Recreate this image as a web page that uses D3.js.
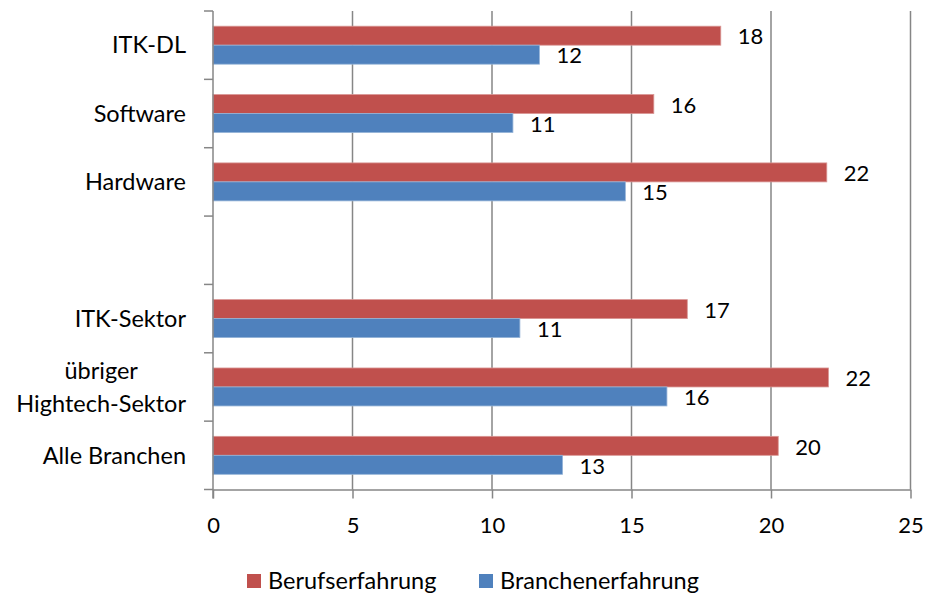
<!DOCTYPE html>
<html lang="de">
<head>
<meta charset="utf-8">
<title>Berufs- und Branchenerfahrung</title>
<script src="https://cdn.jsdelivr.net/npm/d3@7"></script>
<style>
  body { margin: 0; background: #fff; }
  svg text { font-family: Lato, "Open Sans", sans-serif; fill: #000; }
  .grid line { stroke: #868686; stroke-width: 1.5px; }
  .axis path, .axis line { stroke: #868686; stroke-width: 1.5px; }
</style>
</head>
<body>
<script>
// categories top to bottom; the empty string is the gap row
const categories = ["ITK-DL", "Software", "Hardware", "", "ITK-Sektor", "übriger Hightech-Sektor", "Alle Branchen"];
const seriesNames = ["Berufserfahrung", "Branchenerfahrung"];
const berufserfahrung = [18.2, 15.8, 22.0, null, 17.0, 22.06, 20.26];
const branchenerfahrung = [11.7, 10.75, 14.78, null, 11.0, 16.27, 12.53];
const xTicks = [0, 5, 10, 15, 20, 25];
const colors = ["#C0504D", "#4F81BD"];

const W = 925, H = 594;
const plotL = 213, plotR = 910.5, plotT = 11, plotB = 489.5;
const textSize = "23.5px", numSize = "22px";

const svg = d3.select("body").append("svg")
    .attr("width", W).attr("height", H);

const x = d3.scaleLinear().domain([0, 25]).range([plotL, plotR]);
const keys = categories.map((c, i) => "c" + i);
const y = d3.scaleBand().domain(keys).range([plotT, plotB]).padding(0);
const y1 = d3.scaleBand().domain(seriesNames).range([0, y.bandwidth()])
    .paddingInner(0).paddingOuter(0.8);

// gridlines
svg.append("g").attr("class", "grid")
  .selectAll("line")
  .data(xTicks.slice(1))
  .join("line")
    .attr("x1", d => x(d)).attr("x2", d => x(d))
    .attr("y1", plotT).attr("y2", plotB);

// bars
const rows = categories.map((c, i) => ({
  key: keys[i],
  vals: [berufserfahrung[i], branchenerfahrung[i]]
})).filter(r => r.vals[0] != null);

const grp = svg.append("g").selectAll("g")
  .data(rows)
  .join("g")
    .attr("transform", d => `translate(0,${y(d.key)})`);

const bars = grp.selectAll("g")
  .data(d => d.vals.map((v, j) => ({ v, s: seriesNames[j], j })))
  .join("g");

bars.append("rect")
    .attr("x", x(0))
    .attr("y", d => y1(d.s))
    .attr("width", d => x(d.v) - x(0))
    .attr("height", y1.bandwidth())
    .attr("fill", d => colors[d.j])
    .attr("stroke", d => d.j === 0 ? "#D99694" : "#95B3D7")
    .attr("stroke-width", 0.8);

bars.append("text")
    .attr("x", d => x(d.v) + 17)
    .attr("y", d => y1(d.s) + y1.bandwidth() / 2 + 1)
    .attr("dy", "0.35em")
    .style("font-size", numSize)
    .text(d => d3.format(".0f")(d.v));

// x axis
const xAxis = svg.append("g").attr("class", "axis")
    .attr("transform", `translate(0,${plotB})`)
    .call(d3.axisBottom(x).tickValues(xTicks).tickSizeInner(9).tickSizeOuter(0).tickPadding(19));
xAxis.selectAll("text").style("font-size", numSize);

// y axis with ticks at band boundaries
const yAxis = svg.append("g").attr("class", "axis");
yAxis.append("line")
    .attr("x1", plotL).attr("x2", plotL)
    .attr("y1", plotT).attr("y2", plotB + 9);
const bounds = keys.map(k => y(k)).concat([plotB]);
yAxis.selectAll("line.tk")
  .data(bounds)
  .join("line")
    .attr("class", "tk")
    .attr("x1", plotL - 9).attr("x2", plotL)
    .attr("y1", d => d).attr("y2", d => d);

// category labels (wrap long one into two lines, block right aligned)
const catLines = { "übriger Hightech-Sektor": ["übriger", "Hightech-Sektor"] };
const labelRight = 186;
categories.forEach((c, i) => {
  if (!c) return;
  const lines = catLines[c] || [c];
  const cy = y(keys[i]) + y.bandwidth() / 2;
  const g = svg.append("g");
  const texts = lines.map((ln, k) => g.append("text")
      .attr("y", cy + (k - (lines.length - 1) / 2) * 33)
      .attr("dy", "0.35em")
      .style("font-size", textSize)
      .text(ln));
  const maxW = d3.max(texts, t => t.node().getComputedTextLength());
  texts.forEach(t => t.attr("x", labelRight - maxW / 2).attr("text-anchor", "middle"));
});

// legend
const legend = svg.append("g");
const legX = [247, 479];
seriesNames.forEach((s, j) => {
  legend.append("rect")
      .attr("x", legX[j]).attr("y", 574)
      .attr("width", 14).attr("height", 14)
      .attr("fill", colors[j]);
  legend.append("text")
      .attr("x", legX[j] + 21).attr("y", 580.5)
      .attr("dy", "0.35em")
      .style("font-size", textSize)
      .text(s);
});
</script>
</body>
</html>
